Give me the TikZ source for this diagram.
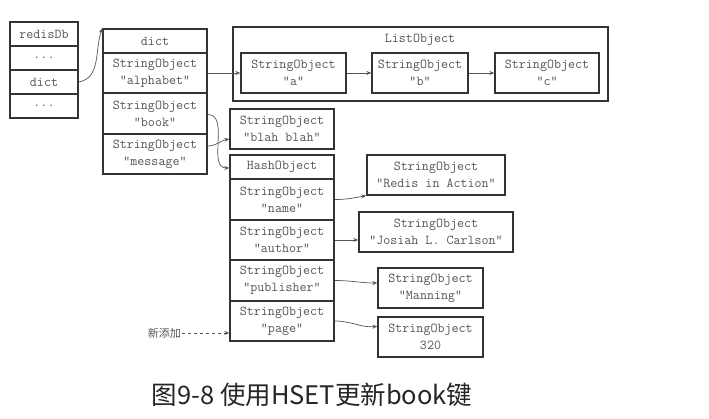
\documentclass[tikz,border=0pt]{standalone}
\usepackage{fontspec}
\newfontfamily\cjk{Noto Sans CJK SC}
\usetikzlibrary{arrows.meta}
\definecolor{boxline}{HTML}{333333}
\definecolor{textgray}{HTML}{555555}
\definecolor{wiregray}{HTML}{555555}
\begin{document}
\begin{tikzpicture}[x=1pt,y=-1pt,
    cell/.style={draw=boxline,line width=1.3pt,text=textgray,align=center,inner sep=0pt,
      font=\ttfamily\fontsize{13.6}{17}\selectfont},
    wire/.style={draw=wiregray,line width=0.7pt,-{Stealth[length=5pt,width=4pt]}}]
  \useasboundingbox (0,0) rectangle (709,419);

  \node[cell,minimum width=68pt,minimum height=24pt] (rdb) at (44,34) {redisDb};
  \node[cell,minimum width=68pt,minimum height=24pt] (rdots1) at (44,58) {...};
  \node[cell,minimum width=68pt,minimum height=24pt] (rdict) at (44,82) {dict};
  \node[cell,minimum width=68pt,minimum height=24pt] (rdots2) at (44,106) {...};

  \node[cell,minimum width=104pt,minimum height=24pt] (dhead) at (155,41) {dict};
  \node[cell,minimum width=104pt,minimum height=40pt] (dalpha) at (155,73) {StringObject\\"alphabet"};
  \node[cell,minimum width=104pt,minimum height=41pt] (dbook) at (155,113.5) {StringObject\\"book"};
  \node[cell,minimum width=104pt,minimum height=40pt] (dmsg) at (155,154) {StringObject\\"message"};

  \draw[draw=boxline,line width=1.3pt] (233,27) rectangle (608,101);
  \node[text=textgray,font=\ttfamily\fontsize{13.6}{17}\selectfont] (ltitle) at (420,40) {ListObject};
  \node[cell,minimum width=105pt,minimum height=40pt] (la) at (293.5,73) {StringObject\\"a"};
  \node[cell,minimum width=96pt,minimum height=40pt] (lb) at (420,73) {StringObject\\"b"};
  \node[cell,minimum width=104pt,minimum height=40pt] (lc) at (547,73) {StringObject\\"c"};

  \node[cell,minimum width=104pt,minimum height=40pt] (blah) at (282,129) {StringObject\\"blah blah"};

  \node[cell,minimum width=104pt,minimum height=24pt] (hhead) at (282,167) {HashObject};
  \node[cell,minimum width=104pt,minimum height=41pt] (hname) at (282,199.5) {StringObject\\"name"};
  \node[cell,minimum width=104pt,minimum height=40pt] (hauthor) at (282,240) {StringObject\\"author"};
  \node[cell,minimum width=104pt,minimum height=41pt] (hpub) at (282,280.5) {StringObject\\"publisher"};
  \node[cell,minimum width=104pt,minimum height=40pt] (hpage) at (282,321) {StringObject\\"page"};

  \node[cell,minimum width=138pt,minimum height=40pt] (vname) at (436,175) {StringObject\\"Redis in Action"};
  \node[cell,minimum width=154pt,minimum height=40pt] (vauthor) at (436,232) {StringObject\\"Josiah L. Carlson"};
  \node[cell,minimum width=105pt,minimum height=40pt] (vpub) at (430.5,288) {StringObject\\"Manning"};
  \node[cell,minimum width=105pt,minimum height=40pt] (vpage) at (430.5,337) {StringObject\\320};

  \node[text=textgray,font=\cjk\fontsize{11}{13}\selectfont,anchor=east,inner sep=1pt] (added) at (182,333) {新添加};

  \draw[wire] (rdict.east) to[out=10,in=250] (dhead.north west);
  \draw[wire] (dalpha.east) -- (la.west);
  \draw[wire] (la.east) -- (lb.west);
  \draw[wire] (lb.east) -- (lc.west);
  \draw[wire] ([yshift=-1pt]dbook.east) to[out=0,in=180] ([yshift=-1pt]hhead.west);
  \draw[wire] ([yshift=8pt]dmsg.east) to[out=0,in=190] ([yshift=-10pt]blah.west);
  \draw[wire] (hname.east) to[out=0,in=190] (vname.south west);
  \draw[wire] (hauthor.east) -- (hauthor.east -| vauthor.west);
  \draw[wire] (hpub.east) to[out=0,in=180] ([yshift=5pt]vpub.west);
  \draw[wire] (hpage.east) to[out=0,in=185] ([yshift=-10pt]vpage.north west);
  \draw[wire,dashed] (added.east) -- (added.east -| hpage.west);

  \node[text=black!85,font=\cjk\fontsize{25.5}{30}\selectfont] (caption) at (312,395) {图9-8 使用HSET更新book键};
\end{tikzpicture}
\end{document}
